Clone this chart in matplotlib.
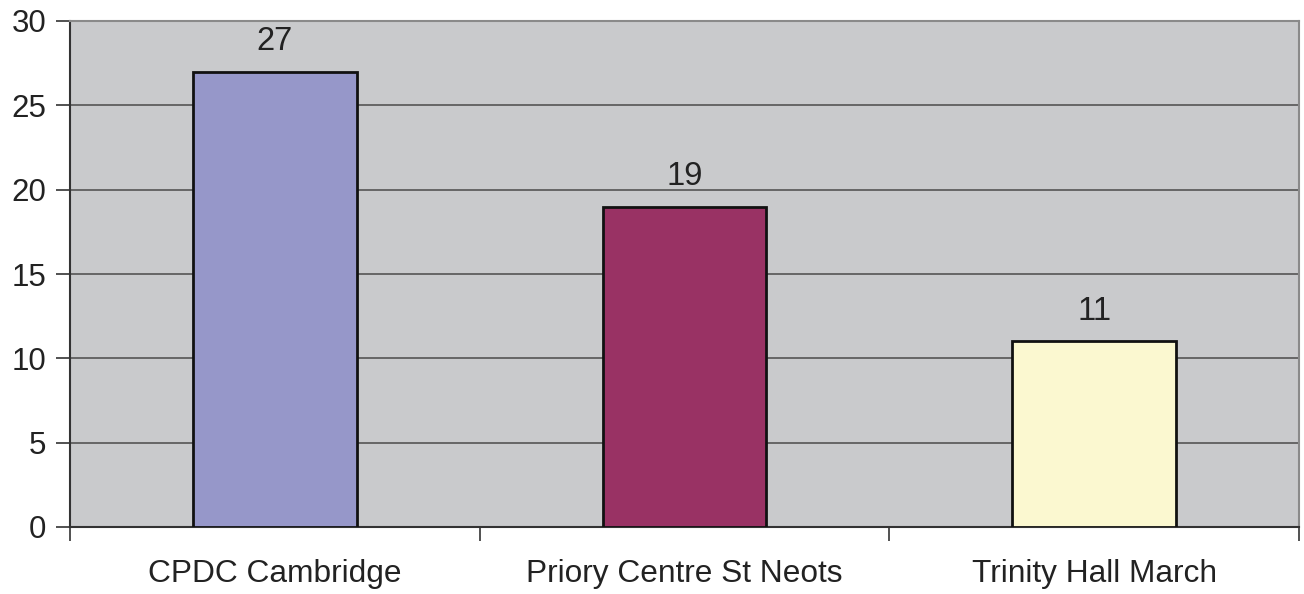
import matplotlib.pyplot as plt
from matplotlib.ticker import FixedLocator

plt.rcParams['font.family'] = ['Liberation Sans', 'DejaVu Sans']

venues = ['CPDC Cambridge', 'Priory Centre St Neots', 'Trinity Hall March']
counts = [27, 19, 11]
colours = ['#9697C9', '#993264', '#FBF8D0']

fig = plt.figure(figsize=(13.04, 5.94), dpi=100)
ax = fig.add_axes([70/1304, 1 - 527/594, (1299-70)/1304, (527-21)/594])
ax.set_facecolor('#C9CACC')

x = range(len(venues))
ax.bar(x, counts, width=0.4, color=colours, edgecolor='#111111', linewidth=2, zorder=3)
for i, v in zip(x, counts):
    ax.text(i, v + 1.3, str(v), ha='center', va='baseline', fontsize=23.5, color='#222222')

ax.set_xlim(-0.5, 2.5)
ax.set_ylim(0, 30)
ax.set_yticks(range(0, 31, 5))
ax.yaxis.grid(True, color='#555555', linewidth=1.2, zorder=1)
ax.tick_params(axis='y', labelsize=22.5, length=10, width=1.2, color='#333333', pad=7, labelcolor='#222222')

# category labels centred, ticks on category boundaries
ax.set_xticks(list(x))
ax.set_xticklabels(venues, fontsize=22.8, color='#222222')
ax.tick_params(axis='x', which='major', length=0, pad=23)
ax.xaxis.set_minor_locator(FixedLocator([-0.5, 0.5, 1.5, 2.5]))
ax.tick_params(axis='x', which='minor', length=10, width=1.2, color='#333333')

for side in ['left', 'bottom']:
    ax.spines[side].set_color('#333333')
    ax.spines[side].set_linewidth(1.5)
for side in ['top', 'right']:
    ax.spines[side].set_color('#8A8A8A')
    ax.spines[side].set_linewidth(1.5)

fig.savefig('out.png', dpi=100)
